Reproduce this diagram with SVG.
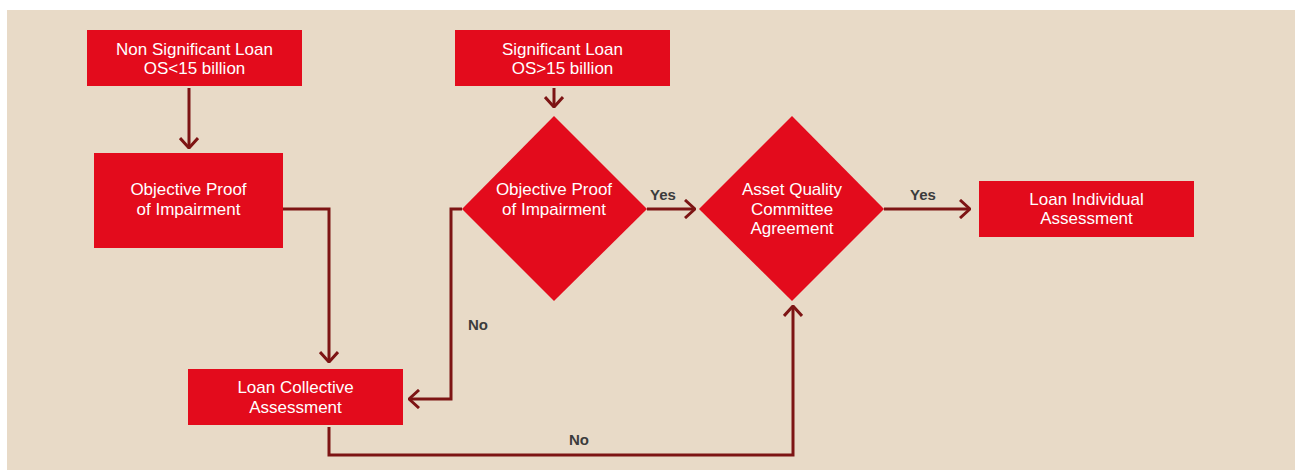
<svg xmlns="http://www.w3.org/2000/svg" width="1295" height="470" viewBox="0 0 1295 470">
<defs>
<style>
.bg{fill:#E8DAC7}
.node{fill:#E30B1C}
.t{font-family:"Liberation Sans",Arial,sans-serif;font-size:17px;fill:#FFFFFF;text-anchor:middle}
.lbl{font-family:"Liberation Sans",Arial,sans-serif;font-size:15px;font-weight:bold;fill:#3C3C3C;text-anchor:middle}
.c{fill:none;stroke:#7D1414;stroke-width:3}
</style>
<marker id="ah" viewBox="0 0 12 20" refX="11" refY="10" markerWidth="12" markerHeight="20" markerUnits="userSpaceOnUse" orient="auto">
<path d="M1,1 L11,10 L1,19" fill="none" stroke="#7D1414" stroke-width="3"/>
</marker>
</defs>
<rect class="bg" x="7" y="10" width="1288" height="460"/>
<g id="connectors">
<path class="c" d="M189,88 V148" marker-end="url(#ah)"/>
<path class="c" d="M554,88 V107" marker-end="url(#ah)"/>
<path class="c" d="M283,209 H329 V362" marker-end="url(#ah)"/>
<path class="c" d="M462,209 H451 V399 H409" marker-end="url(#ah)"/>
<path class="c" d="M647,209 H695" marker-end="url(#ah)"/>
<path class="c" d="M884,209 H970" marker-end="url(#ah)"/>
<path class="c" d="M329,427 V455 H793 V306" marker-end="url(#ah)"/>
</g>
<g id="labels">
<text class="lbl" x="663" y="200">Yes</text>
<text class="lbl" x="923" y="200">Yes</text>
<text class="lbl" x="478" y="330">No</text>
<text class="lbl" x="579" y="445">No</text>
</g>
<g id="n1">
<rect class="node" x="87" y="30" width="215" height="56"/>
<text class="t" x="194.5" y="55">Non Significant Loan</text>
<text class="t" x="194.5" y="74">OS&lt;15 billion</text>
</g>
<g id="n2">
<rect class="node" x="455" y="30" width="215" height="56"/>
<text class="t" x="562.5" y="55">Significant Loan</text>
<text class="t" x="562.5" y="74">OS&gt;15 billion</text>
</g>
<g id="n3">
<rect class="node" x="94" y="153" width="189" height="95"/>
<text class="t" x="188.5" y="195">Objective Proof</text>
<text class="t" x="188.5" y="215">of Impairment</text>
</g>
<g id="n4">
<polygon class="node" points="554,116 647,209 554,301 462,209"/>
<text class="t" x="554" y="195">Objective Proof</text>
<text class="t" x="554" y="215">of Impairment</text>
</g>
<g id="n5">
<polygon class="node" points="792,116 884,209 792,301 699,209"/>
<text class="t" x="792" y="195">Asset Quality</text>
<text class="t" x="792" y="215">Committee</text>
<text class="t" x="792" y="234">Agreement</text>
</g>
<g id="n6">
<rect class="node" x="979" y="181" width="215" height="56"/>
<text class="t" x="1086.5" y="205">Loan Individual</text>
<text class="t" x="1086.5" y="224">Assessment</text>
</g>
<g id="n7">
<rect class="node" x="188" y="369" width="215" height="56"/>
<text class="t" x="295.5" y="393">Loan Collective</text>
<text class="t" x="295.5" y="413">Assessment</text>
</g>
</svg>
